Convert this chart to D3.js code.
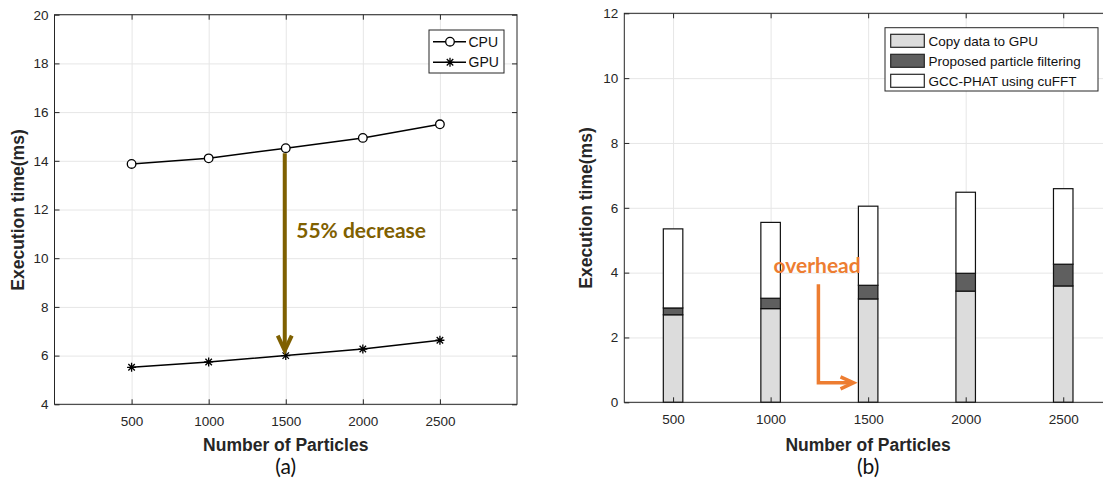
<!DOCTYPE html>
<html>
<head>
<meta charset="utf-8">
<script src="https://cdn.jsdelivr.net/npm/d3@7"></script>
<style>
  body { margin: 0; background: #fff; }
  svg { display: block; }
  .tick text { font-family: "Liberation Sans", Arial, sans-serif; font-size: 13.5px; fill: #262626; }
  .frame { fill: none; stroke: #262626; stroke-width: 1; }
  .grid line { stroke: #e6e6e6; stroke-width: 1; }
  .grid path { display: none; }
</style>
</head>
<body>
<div id="container"></div>
<script>
/* DATA */
const particles = [500, 1000, 1500, 2000, 2500];
const cpuTime = [13.87, 14.1, 14.52, 14.94, 15.5];
const gpuTime = [5.52, 5.74, 6.0, 6.27, 6.63];
// panel (b) stacked parts
const copyTime = [2.7, 2.89, 3.19, 3.43, 3.59];
const filterTime = [0.21, 0.32, 0.42, 0.55, 0.67];
const gccTime = [2.44, 2.34, 2.44, 2.5, 2.33];
const seriesNames = ["Copy data to GPU", "Proposed particle filtering", "GCC-PHAT using cuFFT"];
const yTicksA = [4, 6, 8, 10, 12, 14, 16, 18, 20];
const yTicksB = [0, 2, 4, 6, 8, 10, 12];

const width = 1103, height = 485;

const svg = d3.select("#container").append("svg")
  .attr("width", width).attr("height", height);

/* SCALES */
const xA = d3.scaleLinear().domain([0, 3000]).range([54.5, 517]);
const yA = d3.scaleLinear().domain([4, 20]).range([404.3, 14.7]);
const xB = d3.scaleLinear().domain([250, 2750]).range([624.3, 1112]);
const yB = d3.scaleLinear().domain([0, 12]).range([402.3, 13.3]);

// grid for one panel
function panel(x, y, yTicks) {
  const [x0, x1] = x.range();
  const [y0, y1] = y.range();
  const g = svg.append("g");
  g.append("g").attr("class", "grid")
    .attr("transform", `translate(0,${y0})`)
    .call(d3.axisBottom(x).tickValues(particles).tickSize(-(y0 - y1)).tickFormat(""));
  g.append("g").attr("class", "grid")
    .attr("transform", `translate(${x0},0)`)
    .call(d3.axisLeft(y).tickValues(yTicks).tickSize(-(x1 - x0)).tickFormat(""));
  return g;
}

// box with inward ticks on four sides
function frame(x, y, yTicks) {
  const [x0, x1] = x.range();
  const [y0, y1] = y.range();
  const g = svg.append("g");
  const bottom = g.append("g").attr("transform", `translate(0,${y0})`)
    .call(d3.axisBottom(x).tickValues(particles).tickFormat(d3.format("d"))
      .tickSizeInner(-5).tickSizeOuter(0).tickPadding(12));
  const top = g.append("g").attr("transform", `translate(0,${y1})`)
    .call(d3.axisTop(x).tickValues(particles).tickSizeInner(-5).tickSizeOuter(0).tickFormat(""));
  const left = g.append("g").attr("transform", `translate(${x0},0)`)
    .call(d3.axisLeft(y).tickValues(yTicks).tickFormat(d3.format("d"))
      .tickSizeInner(-5).tickSizeOuter(0).tickPadding(6));
  const right = g.append("g").attr("transform", `translate(${x1},0)`)
    .call(d3.axisRight(y).tickValues(yTicks).tickSizeInner(-5).tickSizeOuter(0).tickFormat(""));
  [bottom, top, left, right].forEach(a => {
    a.select(".domain").remove();
    a.selectAll(".tick line").attr("stroke", "#262626");
  });
  g.append("rect").attr("class", "frame")
    .attr("x", x0).attr("y", y1).attr("width", x1 - x0).attr("height", y0 - y1);
}

function labels(cx, yc, ylx, tag) {
  svg.append("text")
    .attr("x", cx).attr("y", 451)
    .attr("text-anchor", "middle")
    .style("font-family", "Liberation Sans, Arial, sans-serif")
    .style("font-weight", "bold").style("font-size", "17.5px").style("fill", "#262626")
    .text("Number of Particles");
  svg.append("text")
    .attr("transform", `translate(${ylx},${yc}) rotate(-90)`)
    .attr("text-anchor", "middle")
    .style("font-family", "Liberation Sans, Arial, sans-serif")
    .style("font-weight", "bold").style("font-size", "17.5px").style("fill", "#262626")
    .text("Execution time(ms)");
  svg.append("text")
    .attr("x", cx).attr("y", 474)
    .attr("text-anchor", "middle")
    .style("font-family", "Lato, sans-serif").style("font-size", "21px").style("fill", "#111")
    .text(tag);
}

/* PANEL (a) */
panel(xA, yA, yTicksA);

const line = d3.line().x((d, i) => xA(particles[i])).y(d => yA(d));
svg.append("path").datum(cpuTime).attr("d", line)
  .attr("fill", "none").attr("stroke", "#000").attr("stroke-width", 1.5);
svg.append("path").datum(gpuTime).attr("d", line)
  .attr("fill", "none").attr("stroke", "#000").attr("stroke-width", 1.5);

function circleMark(sel, cx, cy) {
  sel.append("circle").attr("cx", cx).attr("cy", cy).attr("r", 4.3)
    .attr("fill", "#fff").attr("stroke", "#000").attr("stroke-width", 1.3);
}
function starMark(sel, cx, cy) {
  const r = 4.5, d = r * 0.72;
  sel.append("path")
    .attr("d", `M${cx},${cy - r}L${cx},${cy + r}M${cx - r},${cy}L${cx + r},${cy}` +
               `M${cx - d},${cy - d}L${cx + d},${cy + d}M${cx - d},${cy + d}L${cx + d},${cy - d}`)
    .attr("stroke", "#000").attr("stroke-width", 1.3);
}
const marks = svg.append("g");
cpuTime.forEach((v, i) => circleMark(marks, xA(particles[i]), yA(v)));
gpuTime.forEach((v, i) => starMark(marks, xA(particles[i]), yA(v)));

// 55% decrease arrow
const brown = "#7f6000";
const ax = xA(1500) - 1;
const aTop = yA(cpuTime[2]) + 5, aTip = yA(gpuTime[2]) - 3;
svg.append("line").attr("x1", ax).attr("x2", ax).attr("y1", aTop).attr("y2", aTip - 2)
  .attr("stroke", brown).attr("stroke-width", 4);
svg.append("path")
  .attr("d", `M${ax - 7},${aTip - 17}L${ax},${aTip - 2}L${ax + 7},${aTip - 17}`)
  .attr("fill", "none").attr("stroke", brown).attr("stroke-width", 4)
  .attr("stroke-linejoin", "miter");
svg.append("text")
  .attr("x", xA(1568)).attr("y", yA(10.85))
  .style("font-family", "Lato, sans-serif").style("font-weight", "bold")
  .style("font-size", "21px").style("fill", brown)
  .text("55% decrease");

frame(xA, yA, yTicksA);

// legend (a)
const legA = svg.append("g");
legA.append("rect").attr("x", 429).attr("y", 30).attr("width", 75).attr("height", 43)
  .attr("fill", "#fff").attr("stroke", "#262626").attr("stroke-width", 1);
[["CPU", 41.7, circleMark], ["GPU", 62.3, starMark]].forEach(([name, ly, mk]) => {
  legA.append("line").attr("x1", 433).attr("x2", 466).attr("y1", ly).attr("y2", ly)
    .attr("stroke", "#000").attr("stroke-width", 1.5);
  mk(legA, 450, ly);
  legA.append("text").attr("x", 468.5).attr("y", ly + 5)
    .style("font-family", "Liberation Sans, Arial, sans-serif").style("font-size", "14px")
    .style("fill", "#111").text(name);
});

labels(xA(1500), 210, 24, "(a)");

/* PANEL (b) */
panel(xB, yB, yTicksB);

const stackData = particles.map((p, i) => ({ p, copy: copyTime[i], filter: filterTime[i], gcc: gccTime[i] }));
const keys = ["copy", "filter", "gcc"];
const fills = ["#dcdcdc", "#5f5f5f", "#ffffff"];
const stacked = d3.stack().keys(keys)(stackData);

svg.append("g").selectAll("g")
  .data(stacked)
  .join("g")
  .attr("fill", (d, i) => fills[i])
  .selectAll("rect")
  .data(d => d)
  .join("rect")
  .attr("x", d => xB(d.data.p - 50))
  .attr("width", d => xB(d.data.p + 50) - xB(d.data.p - 50))
  .attr("y", d => yB(d[1]))
  .attr("height", d => yB(d[0]) - yB(d[1]))
  .attr("stroke", "#111").attr("stroke-width", 1.2);

// overhead annotation
const orange = "#ed7d31";
svg.append("text")
  .attr("x", xB(1015)).attr("y", yB(4.0))
  .style("font-family", "Lato, sans-serif").style("font-weight", "bold")
  .style("font-size", "21px").style("fill", orange)
  .text("overhead");
const ox = xB(1245), oy = yB(0.6), otip = xB(1425);
svg.append("path")
  .attr("d", `M${ox},${yB(3.64)}L${ox},${oy}L${otip - 2},${oy}`)
  .attr("fill", "none").attr("stroke", orange).attr("stroke-width", 3.5);
svg.append("path")
  .attr("d", `M${otip - 13},${oy - 6}L${otip},${oy}L${otip - 13},${oy + 6}`)
  .attr("fill", "none").attr("stroke", orange).attr("stroke-width", 3.5);

frame(xB, yB, yTicksB);

// legend (b)
const legB = svg.append("g");
legB.append("rect").attr("x", 885).attr("y", 27.7).attr("width", 213).attr("height", 63.3)
  .attr("fill", "#fff").attr("stroke", "#262626").attr("stroke-width", 1);
seriesNames.forEach((name, i) => {
  const ly = 40.8 + i * 20;
  legB.append("rect").attr("x", 890.7).attr("y", ly - 6.5).attr("width", 33.6).attr("height", 13)
    .attr("fill", fills[i]).attr("stroke", "#262626").attr("stroke-width", 1.2);
  legB.append("text").attr("x", 928.5).attr("y", ly + 5)
    .style("font-family", "Liberation Sans, Arial, sans-serif").style("font-size", "13.5px")
    .style("fill", "#111").text(name);
});

labels(xB(1500), 208, 592, "(b)");
</script>
</body>
</html>
